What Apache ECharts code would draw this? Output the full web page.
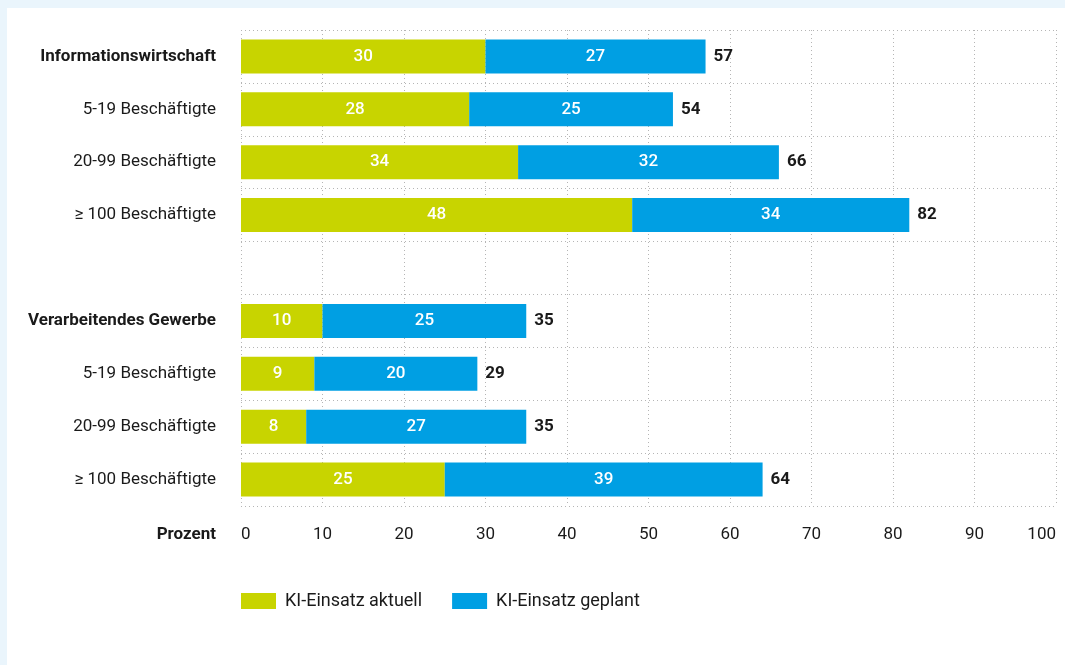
<!DOCTYPE html>
<html>
<head>
<meta charset="utf-8">
<script src="https://cdn.jsdelivr.net/npm/echarts@6/dist/echarts.min.js"></script>
<style>
    html, body { margin:0; padding:0; background:#eaf5fc; }
    #main { position:absolute; left:7px; top:8px; width:1058px; height:657px; background:#fff; }
</style>
</head>
<body>
<div id="main"></div>
<script>
    // Kategorien (leere Zeile als Trenner)
    var categories = ['Informationswirtschaft', '5-19 Beschäftigte', '20-99 Beschäftigte', '≥ 100 Beschäftigte', '',
        'Verarbeitendes Gewerbe', '5-19 Beschäftigte', '20-99 Beschäftigte', '≥ 100 Beschäftigte'];
    var boldRows = [0, 5];
    var aktuell = [30, 28, 34, 48, '-', 10, 9, 8, 25];
    var geplant = [27, 25, 32, 34, '-', 25, 20, 27, 39];
    var gesamt = [57, 54, 66, 82, '-', 35, 29, 35, 64];
    var xTicks = [0, 10, 20, 30, 40, 50, 60, 70, 80, 90, 100];

    var fontName = 'Roboto';
    var fs = 17;
    var myChart = echarts.init(document.getElementById('main'));

    var _option = {
        animation: false,
        textStyle: { fontFamily: fontName },
        grid: { left: 234, right: 9, top: 22, bottom: 159, outerBoundsMode: 'none' },
        legend: {
            left: 234,
            top: 584,
            padding: 0,
            itemWidth: 35,
            itemHeight: 16,
            itemGap: 30,
            icon: 'rect',
            data: ['KI-Einsatz aktuell', 'KI-Einsatz geplant'],
            textStyle: { fontFamily: fontName, fontSize: 18, color: '#1a1a1a', padding: [0, 0, 0, 4] }
        },
        graphic: [{
            type: 'text',
            right: 1058 - 209,
            top: 518,
            style: { text: 'Prozent', font: 'bold ' + fs + 'px ' + fontName, fill: '#1a1a1a' }
        }],
        xAxis: {
            type: 'value',
            min: xTicks[0],
            max: xTicks[xTicks.length - 1],
            interval: 10,
            axisLine: { show: false },
            axisTick: { show: false },
            axisLabel: {
                fontSize: fs, color: '#1a1a1a', margin: 20, fontFamily: fontName,
                alignMinLabel: 'left', alignMaxLabel: 'right'
            },
            splitLine: { show: true, lineStyle: { color: '#b5b5b5', type: [1, 3], width: 1 } }
        },
        yAxis: {
            type: 'category',
            inverse: true,
            data: categories,
            axisLine: { show: false },
            axisTick: { show: false },
            splitLine: { show: true, lineStyle: { color: '#b5b5b5', type: [1, 3], width: 1 } },
            axisLabel: {
                margin: 25,
                fontSize: fs,
                color: '#1a1a1a',
                fontFamily: fontName,
                formatter: function (val, idx) {
                    return boldRows.indexOf(idx) >= 0 ? '{b|' + val + '}' : val;
                },
                rich: { b: { fontWeight: 'bold', fontSize: fs, fontFamily: fontName, color: '#1a1a1a' } }
            }
        },
        series: [
            {
                name: 'KI-Einsatz aktuell',
                type: 'bar',
                stack: 'ki',
                barWidth: 34,
                data: aktuell,
                itemStyle: { color: '#c8d400' },
                label: { show: true, position: 'inside', color: '#fff', fontSize: fs, fontWeight: 500, fontFamily: fontName }
            },
            {
                name: 'KI-Einsatz geplant',
                type: 'bar',
                stack: 'ki',
                barWidth: 34,
                data: geplant,
                itemStyle: { color: '#009fe3' },
                label: { show: true, position: 'inside', color: '#fff', fontSize: fs, fontWeight: 500, fontFamily: fontName }
            },
            {
                // Summe rechts neben dem Balken
                name: 'gesamt',
                type: 'bar',
                stack: 'ki',
                barWidth: 34,
                data: gesamt.map(function (v) { return v === '-' ? '-' : 0; }),
                itemStyle: { color: 'transparent' },
                label: {
                    show: true,
                    position: 'right',
                    distance: 8,
                    color: '#1a1a1a',
                    fontSize: fs,
                    fontWeight: 'bold',
                    fontFamily: fontName,
                    formatter: function (p) { return gesamt[p.dataIndex]; }
                }
            }
        ]
    };
    myChart.setOption(_option);
</script>
</body>
</html>
